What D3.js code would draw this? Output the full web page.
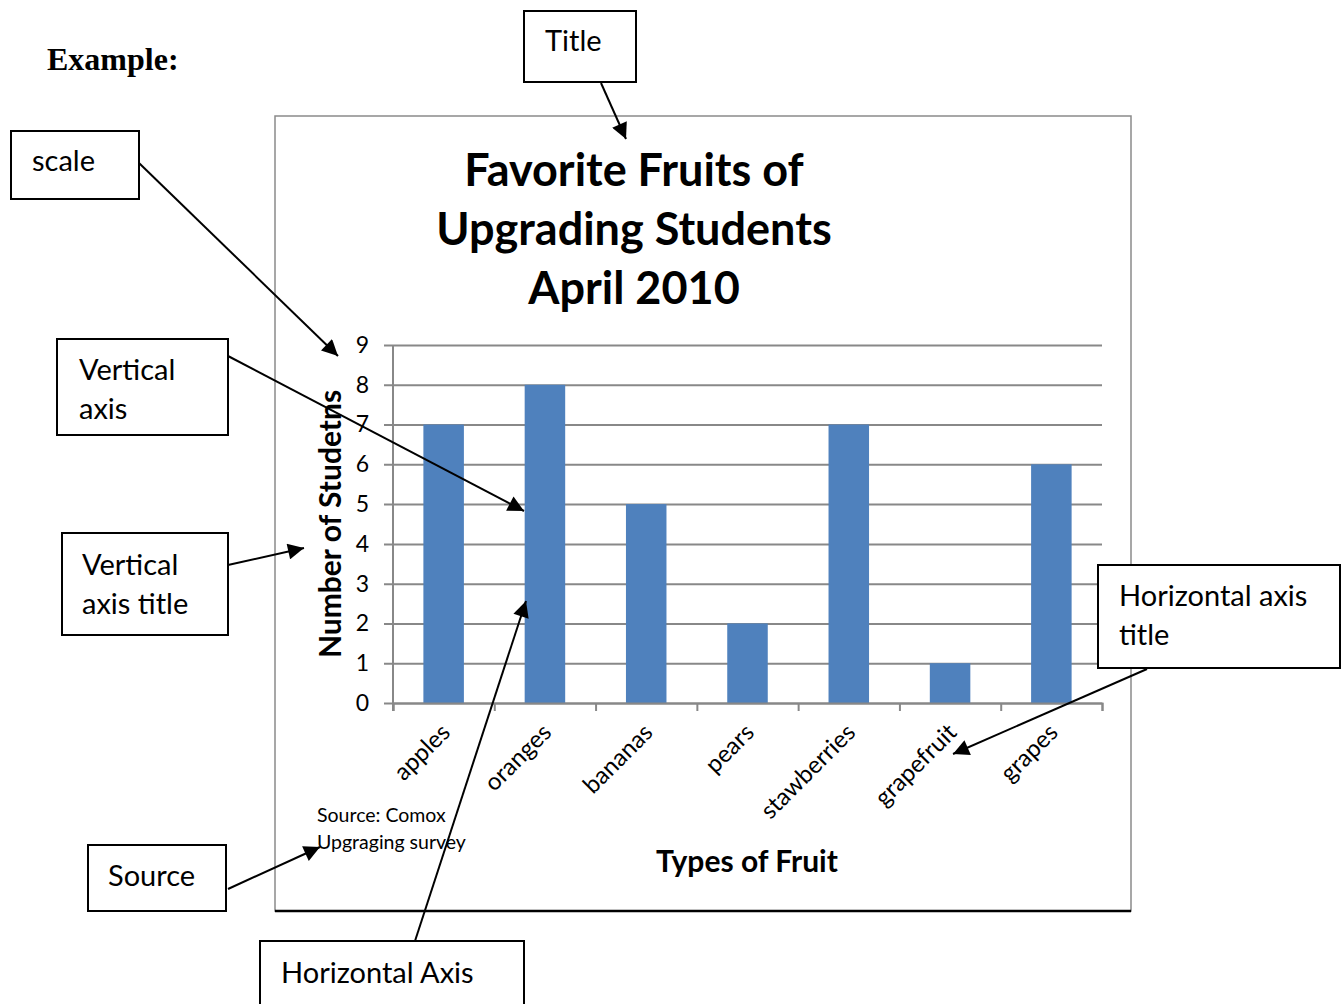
<!DOCTYPE html>
<html>
<head>
<meta charset="utf-8">
<script src="https://cdn.jsdelivr.net/npm/d3@7/dist/d3.min.js"></script>
<style>
  html, body { margin: 0; padding: 0; background: #fff; }
  svg { display: block; }
</style>
</head>
<body>
<svg id="chart" width="1343" height="1004"></svg>
<script>
// ---- data ----
const categories = ["apples", "oranges", "bananas", "pears", "stawberries", "grapefruit", "grapes"];
const values = [7, 8, 5, 2, 7, 1, 6];
const yTicks = [0, 1, 2, 3, 4, 5, 6, 7, 8, 9];
const titleLines = ["Favorite Fruits of", "Upgrading Students", "April 2010"];
const yTitle = "Number of Studetns";
const xTitle = "Types of Fruit";
const sourceLines = ["Source: Comox", "Upgraging survey"];

// callout annotations
const calloutBoxes = [
  { lines: ["Title"],                     box: [524, 11, 112, 71],  text: [545, 51] },
  { lines: ["scale"],                     box: [11, 131, 128, 68],  text: [32, 171] },
  { lines: ["Vertical", "axis"],          box: [57, 339, 171, 96],  text: [79, 380] },
  { lines: ["Vertical", "axis title"],    box: [62, 533, 166, 102], text: [82, 575] },
  { lines: ["Horizontal axis", "title"],  box: [1098, 565, 242, 103], text: [1119, 606] },
  { lines: ["Source"],                    box: [88, 845, 138, 66],  text: [108, 886] },
  { lines: ["Horizontal Axis"],           box: [260, 941, 264, 80], text: [281, 983] }
];
const arrows = [
  [601, 83, 626, 139],
  [139, 163, 338, 356],
  [228, 356, 524, 511],
  [228, 565, 304, 548],
  [1147, 669, 953, 754],
  [228, 889, 320, 847],
  [415, 941, 526, 601]
];

// ---- layout ----
const FONT = "Lato, 'Open Sans', sans-serif";
const plot = { left: 393, right: 1102, top: 345, bottom: 703 };
const frame = { x: 275, y: 116, w: 856, h: 795 };
const gridColor = "#888888";
const barColor = "#4F81BD";

const svg = d3.select("#chart");

// "Example:" heading
svg.append("text")
  .attr("x", 47).attr("y", 70)
  .attr("font-family", "'Liberation Serif', 'Times New Roman', serif")
  .attr("font-weight", "bold").attr("font-size", 32)
  .attr("fill", "#000")
  .text("Example:");

// chart frame
svg.append("rect")
  .attr("x", frame.x).attr("y", frame.y).attr("width", frame.w).attr("height", frame.h)
  .attr("fill", "#fff").attr("stroke", "#8a8a8a").attr("stroke-width", 1.5);
svg.append("line")
  .attr("x1", frame.x).attr("x2", frame.x + frame.w)
  .attr("y1", frame.y + frame.h).attr("y2", frame.y + frame.h)
  .attr("stroke", "#000").attr("stroke-width", 2.5);

// title
const title = svg.append("text")
  .attr("text-anchor", "middle")
  .attr("font-family", FONT).attr("font-weight", "bold").attr("font-size", 45)
  .attr("fill", "#000");
titleLines.forEach((l, i) => {
  title.append("tspan").attr("x", 634).attr("y", 186 + i * 59).text(l);
});

// scales
const x = d3.scaleBand().domain(categories).range([plot.left, plot.right]).paddingInner(0.6).paddingOuter(0.3);
const y = d3.scaleLinear().domain([0, 9]).range([plot.bottom, plot.top]);
const xEdges = d3.scaleLinear().domain([0, categories.length]).range([plot.left, plot.right]);

// gridlines
const grid = svg.append("g")
  .attr("transform", `translate(${plot.left - 9},0)`)
  .call(d3.axisRight(y).tickValues(yTicks).tickSize(plot.right - plot.left + 9).tickFormat(""));
grid.select(".domain").remove();
grid.selectAll(".tick line").attr("stroke", gridColor).attr("stroke-width", 2);

// y labels
const yAxis = svg.append("g")
  .attr("transform", `translate(${plot.left},0)`)
  .call(d3.axisLeft(y).tickValues(yTicks).tickSize(0).tickPadding(24).tickFormat(d3.format("d")));
yAxis.select(".domain").remove();
yAxis.selectAll("text")
  .attr("font-family", FONT).attr("font-size", 23).attr("fill", "#000");

// vertical axis line
svg.append("line")
  .attr("x1", plot.left).attr("x2", plot.left)
  .attr("y1", y(9)).attr("y2", y(0) + 8)
  .attr("stroke", gridColor).attr("stroke-width", 2);

// bars
svg.append("g").selectAll("rect")
  .data(categories.map((c, i) => ({ c, v: values[i] })))
  .join("rect")
  .attr("x", d => x(d.c))
  .attr("width", x.bandwidth())
  .attr("y", d => y(d.v))
  .attr("height", d => y(0) - y(d.v))
  .attr("fill", barColor);

// x axis ticks at boundaries
const xTickAxis = svg.append("g")
  .attr("transform", `translate(0,${plot.bottom})`)
  .call(d3.axisBottom(xEdges).tickValues(d3.range(categories.length + 1)).tickSize(8).tickFormat(""));
xTickAxis.select(".domain").attr("stroke", gridColor).attr("stroke-width", 2);
xTickAxis.selectAll(".tick line").attr("stroke", gridColor).attr("stroke-width", 2);

// x labels
const xAxis = svg.append("g")
  .attr("transform", `translate(0,${plot.bottom})`)
  .call(d3.axisBottom(x).tickSize(0).tickPadding(0));
xAxis.select(".domain").remove();
xAxis.selectAll("text")
  .attr("font-family", FONT).attr("font-size", 24).attr("fill", "#000")
  .attr("text-anchor", "end")
  .attr("dy", 0).attr("y", 0)
  .attr("transform", "translate(8,31) rotate(-45)");

// y title
svg.append("text")
  .attr("transform", `translate(341,${(plot.top + plot.bottom) / 2 + 0}) rotate(-90)`)
  .attr("text-anchor", "middle")
  .attr("font-family", FONT).attr("font-weight", "bold").attr("font-size", 30)
  .attr("fill", "#000")
  .text(yTitle);

// x title
svg.append("text")
  .attr("x", 747).attr("y", 872)
  .attr("text-anchor", "middle")
  .attr("font-family", FONT).attr("font-weight", "bold").attr("font-size", 30)
  .attr("fill", "#000")
  .text(xTitle);

// source
const src = svg.append("text")
  .attr("font-family", FONT).attr("font-size", 19.5).attr("fill", "#000");
sourceLines.forEach((l, i) => {
  src.append("tspan").attr("x", 317).attr("y", 822 + i * 27).text(l);
});

// arrow marker
svg.append("defs").append("marker")
  .attr("id", "arrowhead")
  .attr("viewBox", "0 0 10 10")
  .attr("refX", 10).attr("refY", 5)
  .attr("markerWidth", 9).attr("markerHeight", 8)
  .attr("markerUnits", "strokeWidth")
  .attr("orient", "auto")
  .append("path").attr("d", "M0,0 L10,5 L0,10 Z").attr("fill", "#000");

// callout boxes
const cg = svg.append("g");
calloutBoxes.forEach(b => {
  cg.append("rect")
    .attr("x", b.box[0]).attr("y", b.box[1]).attr("width", b.box[2]).attr("height", b.box[3])
    .attr("fill", "#fff").attr("stroke", "#000").attr("stroke-width", 2);
  const t = cg.append("text")
    .attr("font-family", FONT).attr("font-size", 29).attr("fill", "#000");
  b.lines.forEach((l, i) => {
    t.append("tspan").attr("x", b.text[0]).attr("y", b.text[1] + i * 39).text(l);
  });
});

// arrows
svg.append("g").selectAll("line")
  .data(arrows)
  .join("line")
  .attr("x1", d => d[0]).attr("y1", d => d[1])
  .attr("x2", d => d[2]).attr("y2", d => d[3])
  .attr("stroke", "#000").attr("stroke-width", 2)
  .attr("marker-end", "url(#arrowhead)");
</script>
</body>
</html>
